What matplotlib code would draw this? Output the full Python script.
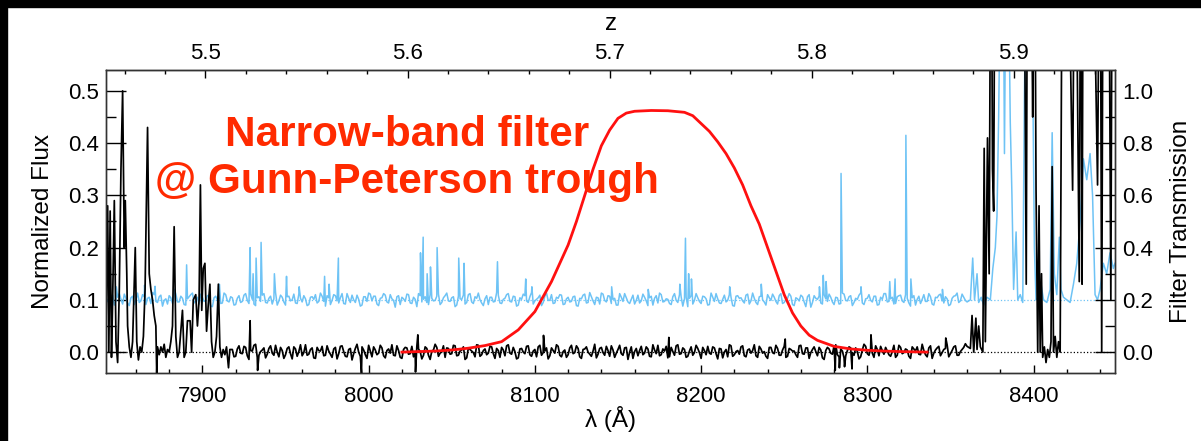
import numpy as np
import matplotlib.pyplot as plt
from matplotlib.ticker import MultipleLocator, FixedLocator
from matplotlib.patches import Rectangle

plt.rcParams['font.family'] = ['Liberation Sans', 'DejaVu Sans']

LYA = 1215.67

# ---- object spectrum (black) ----
# emission spikes at the blue end
blk_left_lam = [7842, 7843, 7843.7, 7844.5, 7845.3, 7846, 7847, 7848, 7849, 7850,
                7851, 7852, 7853, 7853.6, 7854.5, 7855, 7856, 7857, 7858, 7859.6,
                7860.5, 7861.5, 7862.5, 7863.5, 7864.5, 7865.5, 7867, 7868, 7869, 7870,
                7871, 7872, 7872.5, 7873, 7874, 7875, 7876, 7877, 7878, 7879,
                7880, 7881, 7882, 7883, 7884, 7885, 7886, 7887, 7888, 7889,
                7890, 7891, 7892.6, 7893.5, 7894.5, 7896, 7897, 7898, 7898.8, 7899.6,
                7900.5, 7901.5, 7902.5, 7903.5, 7904.5, 7905.5, 7906.5, 7907.5, 7908.5, 7909.6,
                7910.5, 7911.5, 7912.5, 7913.5, 7914.5, 7915.7, 7916.5]
blk_left_flux = [0.05, 0.28, 0.0, 0.27, -0.01, 0.10, 0.29, 0.02, -0.02, 0.12,
                 0.35, 0.50, 0.20, 0.29, 0.15, 0.05, 0.01, -0.01, 0.02, 0.20,
                 0.02, -0.015, 0.01, 0.0, 0.03, 0.12, 0.43, 0.15, 0.12, 0.10,
                 0.07, 0.05, -0.04, 0.01, -0.005, 0.01, 0.0, 0.015, -0.01, 0.005,
                 0.0, 0.02, 0.05, 0.24, 0.03, -0.01, 0.0, 0.04, 0.08, -0.01,
                 0.0, 0.06, 0.06, 0.0, 0.10, 0.11, 0.05, 0.10, 0.32, 0.08,
                 0.16, 0.17, 0.04, 0.09, 0.13, 0.02, -0.01, 0.0, 0.03, 0.13,
                 0.01, -0.01, 0.005, -0.005, 0.01, -0.03, 0.005]

# flat Gunn-Peterson trough, units of 0.001; even pixels from 7918 A, odd from 7919 A
blk_trough_start = 7918
blk_trough = [5, -8, 12, -3, 9, -14, 2, 15, -6, 4, -11, 7, -2, 13, -9, 3,
              -5, 10, -13, 6, 1, -7, 14, -4, 8, -12, 3, 11, -6, 2, -10, 9,
              -3, 12, -8, 5, -15, 7, 0, 10, -5, 13, -9, 4, -2, 8, -11, 6,
              14, -7, 3, -12, 9, -4, 11, -1, 6, -13, 10, -6, 2, 15, -8, 1,
              -10, 7, -3, 12, -6, 4, -14, 8, 2, -9, 13, -5, 6, -2, 10, -12,
              3, 9, -7, 14, -4, 1, -11, 7, -3, 12, -8, 5, 10, -6, 2, -13,
              8, -2, 11, -9, 4, -5, 13, -1, 7, -12, 6, 0, -8, 15, -4, 9,
              -6, 3, 12, -10, 5, -3, 8, -14, 10, 1, -7, 11, -2, 6, -9, 4,
              13, -5, 2, -11, 9, -6, 14, -3, 5, -8, 10, -1, 7, -12, 3, 11,
              -4, 8, -13, 6, 0, -9, 12, -5, 3, 10, -7, 4, -2, 14, -10, 6,
              1, -12, 9, -3, 7, -6, 11, -8, 5, 2, -10, 13, -4, 8, -1, 10,
              -7, 4, -14, 9, -2, 12, -5, 6, -11, 3, 8, -6, 1, -9, 15, -3,
              7, -10, 5, 11, -4, 2, -8, 13, -6, 9, -1, 4, -12, 6, 10, -5,
              3, -9, 12, -2, 8, -7, 5, 14, -3, 10, -6, 1, 9, 11, 7]
blk_trough_odd = [-9, 6, -2, 11, -7, 3, 13, -10, 1, 8, -4, 12, -6, 0, 9, -12,
                  7, -3, 10, -8, 14, -1, -6, 5, -11, 9, 2, -7, 12, -4, 6, -13,
                  11, 1, -9, 7, -3, 15, -8, 4, -12, 2, 10, -5, 13, -7, 3, -2,
                  -6, 12, -10, 5, 8, -3, -9, 11, 1, -6, 7, -14, 4, 9, -2, 12,
                  8, -4, 13, -7, 2, 10, -11, 5, -1, 14, -8, 3, -5, 11, -3, 7,
                  -10, 4, 12, -2, 9, -13, 6, 0, 11, -5, 2, -9, 13, -1, 8, -7,
                  3, 14, -6, 1, -10, 8, -3, 12, -9, 5, 10, -4, 2, -11, 7, -1,
                  11, -8, 4, -2, 13, -6, 9, 0, -12, 7, 3, -5, 10, -8, 14, -3,
                  -7, 6, 11, -9, 1, 12, -4, 8, -10, 2, -6, 13, -1, 9, -5, -2,
                  10, -3, 7, -11, 5, 14, -8, 1, -4, 12, -9, 6, 3, -7, 11, -2,
                  -8, 9, -1, 13, -6, 4, -10, 7, 2, -5, 12, -3, 8, -12, 5, 1,
                  9, -11, 3, 6, -4, 14, -9, 2, -7, 10, -1, 8, -13, 4, 11, -6,
                  -2, 12, -7, 3, 9, -5, 1, -10, 13, -3, 6, -8, 10, 2, -4, 15,
                  -5, 8, -12, 4, 11, -1, 7, -9, 3, 12, -6, 5, 16, 9]
blk_spike_lam = [7928.7, 7933.2, 7995.7, 8028.2, 8029.6, 8105.2, 8180.6, 8250.6,
                 8280.7, 8283.2, 8286.3, 8290.8, 8302.2, 8347.2]
blk_spike_flux = [0.06, -0.035, -0.04, -0.038, 0.033, 0.032, 0.028, 0.025,
                  -0.035, -0.03, -0.028, -0.032, 0.033, 0.027]

# red end, beyond the trough
blk_right_lam = [8363, 8364, 8365.3, 8366, 8367, 8368, 8369.5, 8370.3, 8371, 8372.3,
                 8373.3, 8374.4, 8375.3, 8376, 8377, 8380, 8385, 8390, 8394, 8395.6,
                 8396.5, 8398, 8399.5, 8400.5, 8401.5, 8402.5, 8403.3, 8404, 8404.8, 8405.5,
                 8406.5, 8407.5, 8408.5, 8409.5, 8410.5, 8411.2, 8412, 8413, 8414, 8415,
                 8416, 8417.5, 8420, 8423.5, 8425, 8427.5, 8428.5, 8429.2, 8430, 8435,
                 8438.5, 8440, 8441, 8442, 8444, 8445, 8446.5, 8447.5, 8449]
blk_right_flux = [0.07, 0.0, 0.065, 0.005, 0.05, 0.01, 0.0, 0.39, 0.02, 0.41,
                  0.15, 1.0, 0.35, 0.27, 1.0, 1.0, 1.0, 1.0, 1.0, 0.13,
                  1.0, 1.0, 0.45, 1.0, 0.31, 0.0, 0.28, 0.0, 0.15, -0.01,
                  0.01, -0.02, 0.005, -0.01, 0.02, 0.355, 0.0, 0.03, -0.01, 0.02,
                  0.0, 1.0, 1.0, 0.31, 1.0, 0.135, 1.0, 0.13, 1.0, 1.0,
                  0.32, 1.0, 0.0, 1.0, 0.6, 1.0, 0.1, 1.0, 0.8]

# ---- error spectrum + 0.1 (light blue), units of 0.001 around 0.1 ----
err_start = 7842
err_noise = [4, -6, 9, -2, 12, -8, 3, -11, 7, 0, -5, 10, -9, 5, 14, -3, 6, -12, 2, 8,
             -7, 11, -4, 3, -10, 6, 13, -2, -8, 5, -1, 9, -13, 7, 2, -6, 10, -4, 4, -9,
             8, -3, 12, -7, 1, -11, 6, 9, -5, 3, -8, 14, -2, 5, -10, 7, 0, -6, 11, -4,
             2, -9, 6, 10, -3, 7, -12, 4, -1, 8, -6, 12, -8, 3, 9, -5, 1, -10, 6, 13,
             -2, 7, -11, 4, 9, -6, 2, -14, 8, 5, -3, 10, -7, 1, 12, -4, 6, -9, 3, -1,
             11, -5, 8, -2, 4, -13, 7, 1, -8, 10, -4, 6, 13, -6, 2, -9, 5, -3, 9, -7,
             3, 12, -4, 6, -10, 1, 8, -5, 14, -2, 4, -11, 7, -1, 10, -6, 3, 9, -8, 5,
             -3, 7, -12, 2, 11, -5, 6, -9, 4, 13, -1, 8, -7, 3, -10, 5, 12, -4, 1, -8,
             9, -2, 5, -11, 7, 3, -6, 10, -3, 1, -9, 12, -5, 6, 2, -13, 8, -1, 4, -7,
             6, -10, 13, -3, 2, -7, 9, -1, 5, -12, 8, 4, -6, 11, -2, 3, -9, 7, -4, 10,
             -1, 5, -8, 12, -5, 3, 7, -11, 2, 9, -4, 6, -14, 8, 1, -6, 10, -3, 5, -9,
             4, -7, 11, -2, 8, -5, 1, 13, -9, 3, -1, 7, -10, 5, 12, -4, 2, -8, 6, 9,
             -5, 3, -12, 8, 1, -7, 10, -3, 6, -10, 4, 11, -6, 2, -9, 7, 13, -2, 5, -4]
err_noise_odd = [-3, 8, -10, 5, 1, 11, -6, 4, -9, 13, -2, 6, 3, -7, 10, -5, 9, -1, -8, 4,
                 12, -4, 7, -9, 2, 10, -6, 5, 11, -3, 8, -12, 4, 0, -7, 13, -2, 6, -10, 3,
                 -5, 9, -1, 11, -8, 4, -3, 12, -6, 7, 2, -10, 9, -4, 6, -2, 11, -7, 3, 8,
                 -11, 5, 1, -6, 13, -3, 8, -9, 10, -2, 4, -7, 12, -5, 0, 9, -12, 6, -3, 11,
                 7, -8, 3, 12, -4, 10, -1, 6, -9, 2, 11, -6, 5, -13, 8, 1, -5, 10, -2, 7,
                 -9, 4, 13, -3, 6, -10, 2, 9, -5, 12, -7, 3, 0, -11, 8, 5, -4, 14, -6, 1,
                 10, -3, 7, -12, 4, 11, -2, 6, -8, 1, 9, -5, 13, -1, -7, 5, 10, -9, 2, -4,
                 6, -11, 3, 9, -6, 14, -2, 5, -8, 11, -4, 7, 1, -10, 12, -3, 4, -7, 9, -1,
                 -6, 11, -2, 4, -10, 8, 13, -4, 2, -7, 6, -1, 10, -12, 5, 3, -8, 12, -3, 7,
                 2, -9, 5, 12, -6, 1, -4, 10, -11, 7, 3, -2, 9, -8, 13, -5, 6, 0, -10, 4,
                 11, -3, 8, -7, 1, 12, -9, 4, -2, 6, -13, 10, -5, 3, 7, -8, 2, 11, -4, 5,
                 -8, 13, -1, 6, -11, 3, 9, -6, 2, 10, -4, 7, -9, 1, 12, -3, 5, -7, 8, -2,
                 10, -6, 4, -10, 7, 1, -3, 12, -8, 5, 9, -2, 6, -11, 3, 8, -5, 11, -1]
sky_lam = [7848.2, 7865.2, 7871.5, 7883.2, 7890.5, 7910.2, 7928.7, 7930.5, 7932.3, 7935.3,
           7943.3, 7950.6, 7958.2, 7973.5, 7976.2, 7981.8, 8031.2, 8032.8, 8035.2, 8037.2,
           8041.2, 8054.2, 8057.4, 8077.5, 8094.5, 8098.2, 8146.2, 8168.2, 8187.2, 8190.6,
           8192.5, 8194.2, 8217.2, 8236.2, 8271.2, 8273.5, 8275.2, 8284.2, 8296.2, 8313.5,
           8316.7, 8323.2, 8326.2, 8345.2]
sky_flux = [0.125, 0.128, 0.126, 0.12, 0.167, 0.13, 0.20, 0.15, 0.18, 0.21,
            0.15, 0.145, 0.125, 0.145, 0.13, 0.18, 0.19, 0.22, 0.15, 0.163,
            0.20, 0.18, 0.17, 0.173, 0.14, 0.125, 0.125, 0.12, 0.13, 0.218,
            0.15, 0.14, 0.125, 0.13, 0.125, 0.147, 0.135, 0.342, 0.125, 0.135,
            0.14, 0.415, 0.14, 0.12]
err_right_lam = [8362, 8363.4, 8364.5, 8366, 8367, 8368.5, 8370, 8372, 8374, 8375.5,
                 8377, 8378, 8379, 8380, 8381.5, 8382.5, 8383.5, 8385, 8386, 8387,
                 8388, 8389.5, 8390.5, 8392, 8393.5, 8394.5, 8395.8, 8397, 8399, 8400.5,
                 8401.5, 8403, 8404.5, 8406, 8408, 8410, 8411.2, 8412.5, 8414, 8415.5,
                 8416.5, 8418, 8420, 8422, 8424, 8426, 8428, 8430, 8432, 8434,
                 8435.5, 8437, 8438.5, 8440, 8442, 8444, 8446, 8448, 8449]
err_right_flux = [0.10, 0.18, 0.10, 0.15, 0.095, 0.105, 0.09, 0.105, 0.10, 0.16,
                  0.20, 0.26, 0.45, 0.70, 0.90, 0.38, 0.80, 0.70, 0.44, 0.30,
                  0.12, 0.23, 0.10, 0.11, 0.095, 0.49, 0.80, 0.90, 0.70, 0.20,
                  0.10, 0.105, 0.13, 0.10, 0.095, 0.12, 0.42, 0.15, 0.11, 0.22,
                  0.12, 0.105, 0.10, 0.095, 0.13, 0.17, 0.25, 0.37, 0.33, 0.38,
                  0.30, 0.11, 0.10, 0.12, 0.17, 0.15, 0.19, 0.16, 0.17]

# ---- narrow-band filter curve ----
filt_lam = [8020, 8030, 8040, 8050, 8060, 8070, 8080, 8090, 8100, 8110,
            8120, 8125, 8130, 8135, 8140, 8145, 8150, 8155, 8160, 8170,
            8180, 8190, 8195, 8200, 8205, 8210, 8215, 8220, 8225, 8230,
            8235, 8240, 8245, 8250, 8255, 8260, 8265, 8270, 8280, 8290,
            8300, 8310, 8320, 8336]
filt_trans = [0.0, 0.002, 0.004, 0.008, 0.015, 0.025, 0.040, 0.085, 0.155, 0.27,
              0.41, 0.50, 0.60, 0.70, 0.79, 0.85, 0.895, 0.915, 0.922, 0.925,
              0.924, 0.918, 0.905, 0.875, 0.845, 0.805, 0.76, 0.705, 0.64, 0.56,
              0.49, 0.40, 0.31, 0.22, 0.15, 0.10, 0.065, 0.045, 0.022, 0.012,
              0.007, 0.004, 0.002, 0.0]

z_major = [5.5, 5.6, 5.7, 5.8, 5.9]


def merge(*pairs):
    lam = np.concatenate([np.asarray(p[0], float) for p in pairs])
    val = np.concatenate([np.asarray(p[1], float) for p in pairs])
    order = np.argsort(lam, kind='stable')
    return lam[order], val[order]


trough_even = blk_trough_start + 2.0 * np.arange(len(blk_trough))
trough_odd = blk_trough_start + 1 + 2.0 * np.arange(len(blk_trough_odd))
obj_lam, obj_flux = merge((blk_left_lam, blk_left_flux),
                          (trough_even, np.array(blk_trough) / 1000.0),
                          (trough_odd, np.array(blk_trough_odd) / 1000.0),
                          (blk_spike_lam, blk_spike_flux),
                          (blk_right_lam, blk_right_flux))
err_even = err_start + 2.0 * np.arange(len(err_noise))
err_odd = err_start + 1 + 2.0 * np.arange(len(err_noise_odd))
err_lam, err_flux = merge((err_even, 0.1 + np.array(err_noise) / 1000.0),
                          (err_odd, 0.1 + np.array(err_noise_odd) / 1000.0),
                          (sky_lam, sky_flux),
                          (err_right_lam, err_right_flux))

W, H = 1201, 441
fig = plt.figure(figsize=(W / 100, H / 100), dpi=100)
ax = fig.add_axes([106 / W, 1 - 373 / H, 1009 / W, 303 / H])

xmin, xmax = 7842, 8449
blue = '#6ec3f5'
ax.axhline(0.0, color='black', ls=':', lw=0.9, zorder=1)
ax.axhline(0.1, color=blue, ls=':', lw=0.9, zorder=1)
ax.plot(err_lam, err_flux, color=blue, lw=1.1, zorder=2)
ax.plot(obj_lam, obj_flux, color='black', lw=1.25, zorder=3)
ax.set_xlim(xmin, xmax)
ax.set_ylim(-0.04, 0.54)

ax.xaxis.set_major_locator(MultipleLocator(100))
ax.xaxis.set_minor_locator(MultipleLocator(20))
ax.yaxis.set_major_locator(MultipleLocator(0.1))
ax.yaxis.set_minor_locator(MultipleLocator(0.05))
ax.tick_params(axis='x', which='major', direction='in', length=6, width=1, pad=9, labelsize=16)
ax.tick_params(axis='x', which='minor', direction='in', length=3, width=1)
ax.tick_params(axis='y', which='major', direction='in', length=14.4, width=1, pad=5, labelsize=16)
ax.tick_params(axis='y', which='minor', direction='in', length=7.2, width=1)
ax.set_xlabel('λ (Å)', fontsize=17.5)
ax.xaxis.set_label_coords(0.5, -0.11)
ax.set_ylabel('Normalized Flux', fontsize=17.5)
ax.yaxis.set_label_coords(-0.052, 0.5)

ax2 = ax.twinx()
ax2.plot(filt_lam, filt_trans, color='#ff1010', lw=2.0)
ax2.set_ylim(-0.08, 1.08)
ax2.yaxis.set_major_locator(MultipleLocator(0.2))
ax2.yaxis.set_minor_locator(MultipleLocator(0.1))
ax2.tick_params(axis='y', which='major', direction='in', length=14.4, width=1, pad=5, labelsize=16)
ax2.tick_params(axis='y', which='minor', direction='in', length=7.2, width=1)
ax2.set_ylabel('Filter Transmission', fontsize=17.5)
ax2.yaxis.set_label_coords(1.055, 0.5)

# redshift of Ly-alpha along the top
sec = ax.secondary_xaxis('top', functions=(lambda l: l / LYA - 1, lambda z: (z + 1) * LYA))
sec.xaxis.set_major_locator(FixedLocator(z_major))
sec.xaxis.set_minor_locator(FixedLocator(np.arange(5.46, 5.95, 0.02)))
sec.tick_params(axis='x', which='major', direction='in', length=6, width=1, pad=4, labelsize=16)
sec.tick_params(axis='x', which='minor', direction='in', length=3, width=1)
fig.text(611 / W, 1 - 30 / H, 'z', fontsize=17.5, ha='center', va='baseline')

for a in (ax, ax2):
    for s in a.spines.values():
        s.set_color('#333333')
        s.set_linewidth(1.0)

red = '#ff2a00'
fig.text(407 / W, 1 - 146 / H, 'Narrow-band filter', color=red, fontsize=30.4,
         fontweight='bold', ha='center', va='baseline')
fig.text(407 / W, 1 - 193 / H, '@ Gunn-Peterson trough', color=red, fontsize=30.4,
         fontweight='bold', ha='center', va='baseline')

# black frame bits at the top and left edges of the slide
fig.add_artist(Rectangle((0, 1 - 7 / H), 1, 7 / H, transform=fig.transFigure,
                         color='black', zorder=10))
fig.add_artist(Rectangle((0, 0), 7 / W, 1, transform=fig.transFigure,
                         color='black', zorder=10))

fig.savefig('out.png', dpi=100)
